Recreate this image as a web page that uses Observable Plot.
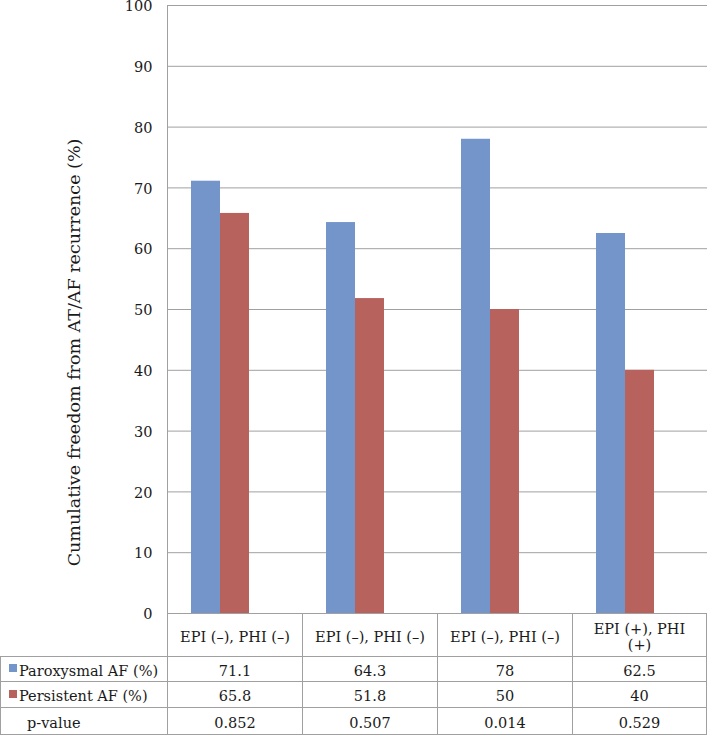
<!DOCTYPE html>
<html><head><meta charset="utf-8">
<script src="https://cdn.jsdelivr.net/npm/d3@7"></script>
<script src="https://cdn.jsdelivr.net/npm/@observablehq/plot@0.6"></script>
<style>
body{margin:0;background:#fff;}
#wrap{position:relative;width:709px;height:736px;font-family:"DejaVu Serif",serif;color:#1a1a1a;overflow:hidden;}
#wrap svg{position:absolute;left:0;top:0;overflow:visible;}
.cell{position:absolute;box-sizing:border-box;border:1px solid #a0a0a0;display:flex;align-items:center;justify-content:center;font-size:14.5px;text-align:center;line-height:16px;padding:3px 6px 0 6px;white-space:pre-line;}
.lab{justify-content:flex-start;padding-left:18px;}
.sw{position:absolute;left:8px;top:50%;width:8px;height:8px;margin-top:-5px;}
</style></head><body><div id="wrap"></div>
<script>
const groupKeys = ["g1", "g2", "g3", "g4"];
const groupLabels = ["EPI (–), PHI (–)", "EPI (–), PHI (–)", "EPI (–), PHI (–)", "EPI (+), PHI\n(+)"];
const seriesNames = ["Paroxysmal AF (%)", "Persistent AF (%)"];
const paroxysmal = [71.1, 64.3, 78, 62.5];
const persistent = [65.8, 51.8, 50, 40];
const pLabel = "p-value";
const pValues = ["0.852", "0.507", "0.014", "0.529"];
const seriesColors = ["#7395C9", "#B8625E"];
const yTicks = [0, 10, 20, 30, 40, 50, 60, 70, 80, 90, 100];
const yLabel = "Cumulative freedom from AT/AF recurrence (%)";

const data = [];
groupKeys.forEach((g, i) => {
  data.push({group: g, series: seriesNames[0], value: paroxysmal[i]});
  data.push({group: g, series: seriesNames[1], value: persistent[i]});
});

const W = 709, ML = 166;
const chart = Plot.plot({
  width: W, height: 614,
  marginLeft: ML, marginRight: 1, marginTop: 5, marginBottom: 1,
  style: {fontFamily: "DejaVu Serif, serif", fontSize: "14px", color: "#1a1a1a", background: "transparent", overflow: "visible"},
  fx: {domain: groupKeys, padding: 0, axis: null},
  x: {domain: [...seriesNames, pLabel], paddingInner: 0, paddingOuter: 0.758, axis: null},
  y: {domain: [0, 100], axis: null},
  color: {domain: seriesNames, range: seriesColors},
  marks: [
    Plot.gridY(yTicks, {stroke: "#a0a0a0", strokeOpacity: 1}),
    Plot.barY(data, {fx: "group", x: "series", y: "value", fill: "series"}),
    Plot.axisY(yTicks, {tickSize: 0, tickPadding: 15, label: null, fontSize: 14.5, dy: 1, facetAnchor: "left"}),
    Plot.frame({anchor: "left", stroke: "#a0a0a0", strokeOpacity: 1, facetAnchor: "left"}),
    Plot.text([yLabel], {text: d => d, frameAnchor: "left", textAnchor: "middle", lineAnchor: "middle", rotate: -90, dx: -93, dy: 43, fontSize: 17.5, facetAnchor: "left"})
  ]
});
const wrap = document.getElementById("wrap");
wrap.appendChild(chart);

// table aligned with the fx scale
const fxs = chart.scale("fx");
let a0 = fxs.apply(groupKeys[0]);
const off = a0 < 100 ? ML : 0;
const edges = groupKeys.map(g => Math.round(off + fxs.apply(g)));
edges.push(Math.round(off + fxs.apply(groupKeys[groupKeys.length - 1]) + fxs.bandwidth) - 1);
const rows = [613, 656, 681, 707, 734];

function cell(x0, x1, y0, y1, html, cls) {
  const d = document.createElement("div");
  d.className = "cell" + (cls ? " " + cls : "");
  d.style.left = x0 + "px";
  d.style.width = (x1 - x0 + 1) + "px";
  d.style.top = y0 + "px";
  d.style.height = (y1 - y0 + 1) + "px";
  d.textContent = html;
  wrap.appendChild(d);
  return d;
}
groupKeys.forEach((g, i) => cell(edges[i], edges[i + 1], rows[0], rows[1], groupLabels[i]));
const rowDefs = [
  {label: seriesNames[0], color: seriesColors[0], vals: paroxysmal.map(String)},
  {label: seriesNames[1], color: seriesColors[1], vals: persistent.map(String)},
  {label: pLabel, color: null, vals: pValues}
];
rowDefs.forEach((r, j) => {
  const c = cell(0, edges[0], rows[j + 1], rows[j + 2], r.label, "lab");
  if (r.color) {
    const s = document.createElement("span");
    s.className = "sw"; s.style.background = r.color;
    c.appendChild(s);
  } else {
    c.style.paddingLeft = "26px";
  }
  r.vals.forEach((v, i) => cell(edges[i], edges[i + 1], rows[j + 1], rows[j + 2], v));
});
</script></body></html>
